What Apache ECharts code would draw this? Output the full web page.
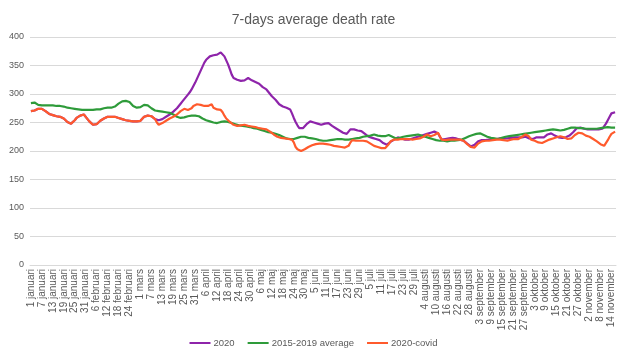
<!DOCTYPE html>
<html>
<head>
<meta charset="utf-8">
<script src="https://cdn.jsdelivr.net/npm/echarts@6/dist/echarts.min.js"></script>
<style>
html,body{margin:0;padding:0;background:#fff;}
#chart{width:627px;height:358px;}
</style>
</head>
<body>
<div id="chart"></div>
<script>
// Month names and lengths (2020, leap year) used to build the daily category labels
const monthNames = ['januari','februari','mars','april','maj','juni','juli','augusti','september','oktober','november'];
const monthDays = [31,29,31,30,31,30,31,31,30,31,16];

const yTicks = [0,50,100,150,200,250,300,350,400];

const seriesNames = ['2020','2015-2019 average','2020-covid'];

// 2020 total (7-day average)
const deaths2020 = [
270,271,271,272,274,275,274,272,270,267,
265,264,263,262,261,261,260,259,257,254,
251,249,248,250,254,258,260,262,263,264,
261,256,252,249,246,245,247,250,253,255,
257,259,260,261,260,260,260,259,258,257,
256,255,254,254,253,252,252,252,252,252,
253,256,260,262,262,261,261,260,256,254,
254,255,256,258,260,262,264,266,269,272,
275,279,283,287,291,295,299,303,308,314,
320,327,334,341,348,355,360,363,366,367,
368,369,369,372,373,370,366,359,352,343,
334,328,326,325,324,323,323,324,327,328,
326,324,323,321,320,318,315,312,310,308,
305,300,296,293,290,286,282,279,278,277,
276,275,273,266,258,251,245,240,238,240,
243,247,250,252,251,250,249,248,247,246,
247,248,249,249,247,244,242,240,238,236,
234,232,229,230,234,238,239,238,237,236,
235,235,233,230,228,225,224,223,222,221,
220,219,217,214,212,211,213,216,218,220,
222,224,223,222,221,220,220,220,221,222,
223,224,225,226,227,228,229,230,231,232,
233,234,235,231,225,220,220,221,222,222,
223,223,223,222,221,220,219,218,216,213,
210,208,208,211,214,217,218,219,219,219,
219,220,220,221,221,221,221,222,222,222,
222,222,223,223,223,224,224,224,224,224,
225,225,224,222,221,221,222,224,225,224,
223,224,226,229,231,231,229,227,225,224,
223,223,223,224,225,227,230,233,236,240,
241,241,240,239,238,238,238,238,238,238,
238,238,238,239,241,248,254,260,266,268,
268
];

// 2015-2019 average (7-day average)
const avg2015_2019 = [
284,285,285,283,281,280,280,280,280,279,
280,280,280,279,279,279,279,278,278,277,
276,276,275,275,274,273,273,273,272,272,
272,271,272,272,272,273,273,273,273,274,
275,276,276,276,276,277,278,280,283,285,
287,288,288,287,286,283,279,276,276,276,
277,279,281,282,280,277,275,273,271,270,
270,269,269,268,268,268,267,266,264,262,
260,258,258,258,259,260,261,261,262,262,
262,262,261,259,257,256,254,253,252,251,
250,249,249,250,251,252,252,252,251,250,
249,248,247,246,245,245,244,243,243,242,
242,241,240,240,239,238,237,236,235,234,
233,233,232,231,230,229,228,227,225,223,
222,221,221,221,221,222,223,224,225,225,
225,224,223,223,222,222,221,220,219,218,
218,218,218,218,219,219,220,220,221,221,
221,220,220,220,220,220,221,221,222,222,
223,224,225,225,226,227,227,228,229,228,
227,226,226,226,226,227,228,227,225,223,
222,222,223,224,225,226,226,226,227,228,
228,229,229,228,227,226,225,224,223,222,
221,220,219,219,218,218,218,217,217,217,
218,218,218,219,219,219,220,221,223,225,
226,227,228,229,230,231,231,230,228,226,
225,224,223,222,222,221,221,222,223,224,
225,226,226,227,227,228,228,228,229,229,
230,230,231,231,232,232,233,233,234,234,
235,235,236,236,237,238,238,238,237,237,
236,236,237,238,239,240,241,241,241,241,
240,240,240,239,239,239,239,239,239,239,
239,240,240,240,241,242,242,242,241,241,
241
];

// 2020 excluding covid deaths (7-day average)
const covid2020 = [
270,271,271,272,274,275,274,272,270,267,
265,264,263,262,261,261,260,259,257,254,
251,249,248,250,254,258,260,262,263,264,
261,256,252,249,246,245,247,250,253,255,
257,259,260,261,260,260,260,259,258,257,
256,255,254,254,253,252,252,252,252,252,
253,256,260,262,262,261,261,260,256,250,
246,247,249,251,253,255,257,258,260,262,
264,267,270,272,274,273,272,271,275,279,
280,282,283,281,279,279,278,279,281,282,
276,273,273,274,272,268,262,257,255,251,
248,246,245,244,244,245,245,246,245,244,
243,243,243,242,241,240,239,239,238,238,
237,234,231,229,227,225,224,223,222,222,
222,221,220,220,215,207,203,201,200,201,
203,205,207,208,210,211,212,213,213,213,
213,212,212,211,211,210,209,208,208,207,
207,207,206,205,209,215,219,218,218,218,
218,219,218,217,217,215,213,211,209,207,
207,206,205,205,205,207,212,217,219,220,
220,220,221,221,221,221,221,221,220,220,
220,221,222,222,223,225,227,229,228,226,
226,228,231,232,226,220,219,219,220,220,
220,220,220,220,220,220,220,218,215,212,
209,207,205,206,209,213,216,217,217,218,
218,218,218,219,220,220,220,220,219,219,
219,218,219,220,220,221,221,221,223,225,
227,229,229,225,220,219,218,216,215,214,
214,215,217,219,220,221,222,223,224,225,
226,226,224,222,221,220,222,225,228,231,
232,232,231,229,227,226,225,223,221,219,
217,215,212,210,209,212,219,225,230,233,
234
];

const categories = [];
monthNames.forEach((m, mi) => {
  for (let d = 1; d <= monthDays[mi]; d++) categories.push(d + ' ' + m);
});

const colors = ['#8E24AA', '#2E9B3A', '#FF5A2C'];
const textColor = '#595959';

const chart = echarts.init(document.getElementById('chart'), null, {renderer: 'canvas'});
chart.setOption({
  animation: false,
  backgroundColor: '#ffffff',
  title: {
    text: '7-days average death rate',
    left: 'center',
    top: 8,
    textStyle: {fontFamily: 'Liberation Sans, Arial, sans-serif', fontSize: 14, fontWeight: 'normal', color: textColor}
  },
  legend: {
    bottom: 5,
    left: 'center',
    itemGap: 13,
    itemWidth: 21,
    itemHeight: 2,
    icon: 'rect',
    textStyle: {fontFamily: 'Liberation Sans, Arial, sans-serif', fontSize: 9.5, color: textColor, padding: [0,0,0,-2]},
    data: seriesNames
  },
  grid: {left: 30, right: 11, top: 37, bottom: 93, containLabel: false},
  xAxis: {
    type: 'category',
    data: categories,
    boundaryGap: true,
    axisLine: {show: true, lineStyle: {color: '#d9d9d9', width: 1}},
    axisTick: {show: false},
    axisLabel: {
      interval: 5,
      rotate: 90,
      fontFamily: 'Liberation Sans, Arial, sans-serif',
      fontSize: 10,
      color: textColor,
      margin: 4
    }
  },
  yAxis: {
    type: 'value',
    min: 0,
    max: 400,
    interval: 50,
    axisLine: {show: false},
    axisTick: {show: false},
    splitLine: {lineStyle: {color: '#d9d9d9', width: 1}},
    axisLabel: {
      fontFamily: 'Liberation Sans, Arial, sans-serif',
      fontSize: 9,
      color: textColor,
      margin: 6,
      formatter: v => yTicks.includes(v) ? String(v) : ''
    }
  },
  series: [
    {name: seriesNames[0], type: 'line', data: deaths2020, showSymbol: false, symbol: 'none', lineStyle: {width: 2.2, color: colors[0]}, itemStyle: {color: colors[0]}},
    {name: seriesNames[1], type: 'line', data: avg2015_2019, showSymbol: false, symbol: 'none', lineStyle: {width: 2.2, color: colors[1]}, itemStyle: {color: colors[1]}},
    {name: seriesNames[2], type: 'line', data: covid2020, showSymbol: false, symbol: 'none', lineStyle: {width: 2.2, color: colors[2]}, itemStyle: {color: colors[2]}}
  ]
});
</script>
</body>
</html>
